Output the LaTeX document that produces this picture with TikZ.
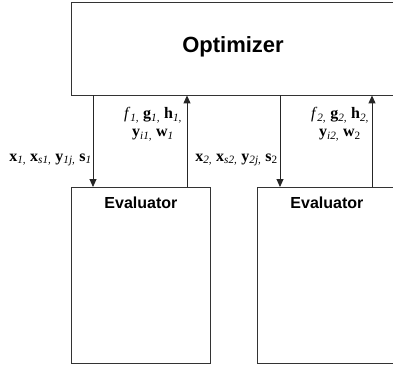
\documentclass[tikz,border=0pt]{standalone}
\usepackage{fontspec}
\setmainfont{Liberation Serif}
\newfontfamily\boxfont{Liberation Sans}
\usetikzlibrary{arrows.meta,calc}
\newcommand{\isub}[1]{\textsubscript{\textit{#1}}}
\newcommand{\bv}[1]{\textbf{#1}}
\tikzset{
  boxstyle/.style={draw=black!80, line width=0.9pt, fill=white, inner sep=0pt},
  flow/.style={draw=black!85, line width=0.9pt, -{Triangle[length=8pt,width=7pt]}},
  lbl/.style={font=\fontsize{16}{18}\selectfont, inner sep=0pt, align=center},
  title/.style={font=\boxfont\bfseries\fontsize{16}{18}\selectfont, inner sep=0pt}
}
\begin{document}
\begin{tikzpicture}[x=1pt,y=-1pt]
\useasboundingbox (0,0) rectangle (393,368);
\node[boxstyle, minimum width=325pt, minimum height=93pt, anchor=north west] (opt) at (71,1.5) {};
\node[font=\boxfont\bfseries\fontsize{22}{24}\selectfont, inner sep=0pt] (optt) at (233,47) {Optimizer};
\node[boxstyle, minimum width=139pt, minimum height=176pt, anchor=north west] (ev1) at (71,187) {};
\node[boxstyle, minimum width=139pt, minimum height=176pt, anchor=north west] (ev2) at (257,187) {};
\node[title] (ev1t) at ($(ev1.north)+(0,16)$) {Evaluator};
\node[title] (ev2t) at ($(ev2.north)+(0,16)$) {Evaluator};
\coordinate (d1) at (93,0);
\coordinate (u1) at (187,0);
\coordinate (d2) at (280,0);
\coordinate (u2) at (372,0);
\draw[flow] (opt.south -| d1) -- (ev1.north -| d1);
\draw[flow] (ev1.north -| u1) -- (opt.south -| u1);
\draw[flow] (opt.south -| d2) -- (ev2.north -| d2);
\draw[flow] (ev2.north -| u2) -- (opt.south -| u2);
\node[lbl, anchor=east] (l1) at (92,160) {\bv{x}\isub{1,} \bv{x}\isub{s1,} \bv{y}\isub{1j,} \bv{s}\isub{1}};
\node[lbl] (l2) at (153,124) {\textit{f}\isub{1,} \bv{g}\isub{1,} \bv{h}\isub{1,}\\ \bv{y}\isub{i1,} \bv{w}\isub{1}};
\node[lbl, anchor=east] (l3) at (278,160) {\bv{x}\isub{2,} \bv{x}\isub{s2,} \bv{y}\isub{2j,} \bv{s}\textsubscript{2}};
\node[lbl] (l4) at (340,124) {\textit{f}\isub{2,} \bv{g}\isub{2,} \bv{h}\isub{2,}\\ \bv{y}\isub{i2,} \bv{w}\textsubscript{2}};
\end{tikzpicture}
\end{document}
